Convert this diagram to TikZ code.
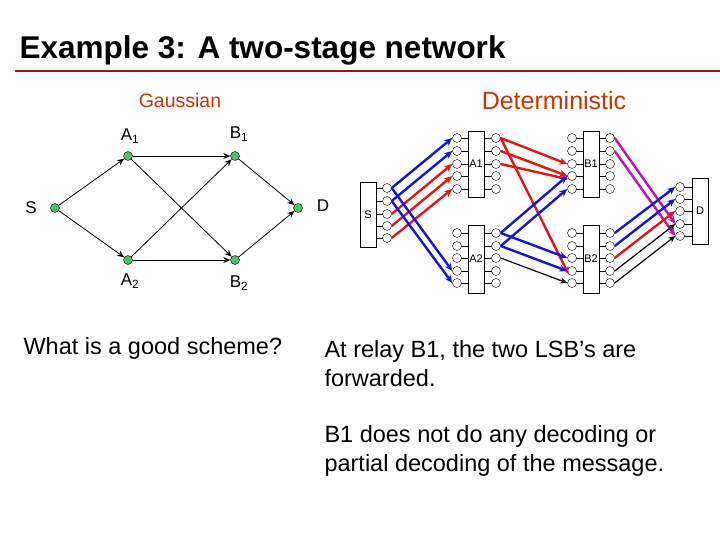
\documentclass[tikz,border=0pt]{standalone}
\usepackage{fontspec}
\setmainfont{Liberation Sans}
\usetikzlibrary{arrows.meta}
\definecolor{tred}{RGB}{204,51,0}
\definecolor{dred}{RGB}{150,20,20}
\definecolor{gn}{RGB}{80,190,110}
\definecolor{ar}{RGB}{230,20,20}
\definecolor{ab}{RGB}{20,20,220}
\definecolor{am}{RGB}{190,20,170}
\begin{document}
\begin{tikzpicture}[x=1pt,y=-1pt,
  gnode/.style={circle,draw=black,fill=gn,inner sep=0pt,minimum size=9pt},
  glab/.style={font=\fontsize{17}{18}\selectfont},
  gedge/.style={-{Stealth[length=7pt,width=6pt]},line width=0.8pt},
  box/.style={draw,inner sep=0pt,minimum width=16pt,font=\fontsize{11}{12}\selectfont},
  pc/.style={circle,draw,inner sep=0pt,minimum size=9pt,fill=white},
  ta/.style={-{Stealth[length=8pt,width=7pt]},line width=2.4pt},
  body/.style={anchor=north west,align=left,font=\fontsize{23.5}{29}\selectfont}]
\useasboundingbox (0,0) rectangle (720,540);
\node[anchor=west,font=\bfseries\fontsize{31.5}{34}\selectfont] (title) at (16,50) {Example 3: A two-stage network};
\draw[dred,line width=2.5pt] (15,71) -- (720,71);
\node[tred,font=\fontsize{19.5}{20}\selectfont] (gau) at (180,101) {Gaussian};
\node[tred,font=\fontsize{25}{26}\selectfont] (det) at (554,101) {Deterministic};
% Gaussian graph
\node[gnode] (S) at (55,208) {};
\node[gnode] (D) at (298,208) {};
\node[gnode] (A1) at (128,156) {};
\node[gnode] (B1) at (235,156) {};
\node[gnode] (A2) at (128,260) {};
\node[gnode] (B2) at (235,260) {};
\node[glab] (lS) at (31,208) {S};
\node[glab] (lD) at (323,206) {D};
\node[glab] (lA1) at (130,136) {A\textsubscript{1}};
\node[glab] (lB1) at (239,134) {B\textsubscript{1}};
\node[glab] (lA2) at (130,281) {A\textsubscript{2}};
\node[glab] (lB2) at (239,283) {B\textsubscript{2}};
\foreach \a/\b in {S/A1,S/A2,A1/B1,A1/B2,A2/B1,A2/B2,B1/D,B2/D}
  \draw[gedge] (\a) -- (\b);
% deterministic boxes
\node[box,minimum height=65pt] (bS) at (368,214.5) {S};
\node[box,minimum height=66pt] (bA1) at (476,164) {A1};
\node[box,minimum height=68pt] (bA2) at (476,259) {A2};
\node[box,minimum height=66pt] (bB1) at (591,164) {B1};
\node[box,minimum height=68pt] (bB2) at (591,259) {B2};
\node[box,minimum height=66pt] (bD) at (700,211) {D};
\foreach \i/\y in {0/188,1/201,2/214,3/226,4/238}{
  \draw (376,\y) -- (387,\y); \node[pc] (s\i) at (387,\y) {};}
\foreach \i/\y in {0/138,1/151,2/164,3/176,4/189}{
  \draw (457,\y) -- (468,\y); \node[pc] (a1l\i) at (457,\y) {};
  \draw (484,\y) -- (496,\y); \node[pc] (a1r\i) at (496,\y) {};
  \draw (572,\y) -- (583,\y); \node[pc] (b1l\i) at (572,\y) {};
  \draw (599,\y) -- (610,\y); \node[pc] (b1r\i) at (610,\y) {};}
\foreach \i/\y in {0/233,1/246,2/258,3/271,4/283}{
  \draw (457,\y) -- (468,\y); \node[pc] (a2l\i) at (457,\y) {};
  \draw (484,\y) -- (496,\y); \node[pc] (a2r\i) at (496,\y) {};
  \draw (572,\y) -- (583,\y); \node[pc] (b2l\i) at (572,\y) {};
  \draw (599,\y) -- (610,\y); \node[pc] (b2r\i) at (610,\y) {};}
\foreach \i/\y in {0/187,1/199,2/211,3/224,4/236}{
  \draw (680,\y) -- (692,\y); \node[pc] (d\i) at (680,\y) {};}
% arrows
\draw[ta,ab] (s0.east) -- (a1l0.west);
\draw[ta,ab] (s1.east) -- (a1l1.west);
\draw[ta,ar] (s2.east) -- (a1l2.west);
\draw[ta,ar] (s3.east) -- (a1l3.west);
\draw[ta,ar] (s4.east) -- (a1l4.west);
\draw[ta,ab] (s0.east) -- (a2l3.west);
\draw[ta,ab] (s1.east) -- (a2l4.west);
\draw[ta,ar] (a1r0.east) -- (b1l2.west);
\draw[ta,ar] (a1r1.east) -- (b1l3.west);
\draw[ta,ar] (a1r2.east) -- (b1l3.south west);
\draw[ta,ar] (a1r0.east) -- (b2l3.south west);
\draw[ta,ab] (a2r0.east) -- (b1l3.west);
\draw[ta,ab] (a2r1.east) -- (b1l4.west);
\draw[ta,ab] (a2r0.east) -- (b2l2.west);
\draw[ta,ab] (a2r1.east) -- (b2l3.west);
\draw[-{Stealth[length=7pt,width=6pt]},line width=1.2pt] (a2r2.east) -- (b2l4.west);
\draw[ta,am] (b1r0.east) -- (d3.west);
\draw[ta,am] (b1r1.east) -- (d4.west);
\draw[ta,ab] (b2r0.east) -- (d0.west);
\draw[ta,ab] (b2r1.east) -- (d1.west);
\draw[ta,ar] (b2r2.east) -- (d2.west);
\draw[-{Stealth[length=7pt,width=6pt]},line width=1.2pt] (b2r3.east) -- (d3.west);
\draw[-{Stealth[length=7pt,width=6pt]},line width=1.2pt] (b2r4.east) -- (d4.west);
% texts
\node[body] (q) at (20,334) {What is a good scheme?};
\node[body] (t1) at (321,337) {At relay B1, the two LSB’s are\\forwarded.};
\node[body] (t2) at (321,422) {B1 does not do any decoding or\\partial decoding of the message.};
\end{tikzpicture}
\end{document}
